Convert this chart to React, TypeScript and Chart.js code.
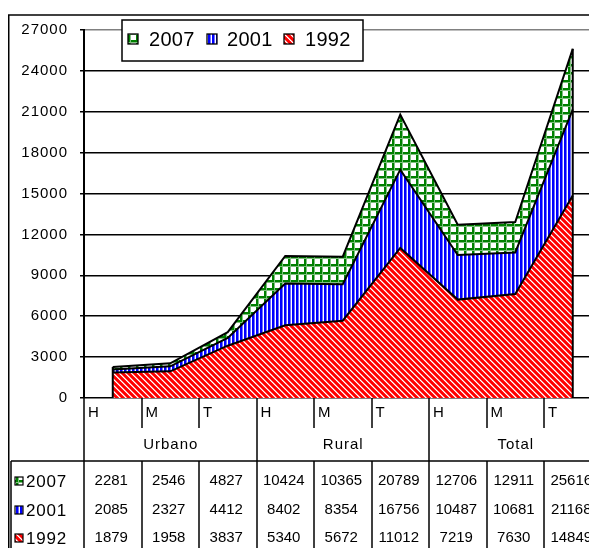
import React, { useEffect, useRef } from 'react';
import { Chart, registerables } from 'chart.js';

Chart.register(...registerables);

// ---- data ----
const categories = ['H', 'M', 'T', 'H', 'M', 'T', 'H', 'M', 'T'];
const groups = ['Urbano', 'Rural', 'Total'];
const seriesNames = ['2007', '2001', '1992'];
const values2007 = [2281, 2546, 4827, 10424, 10365, 20789, 12706, 12911, 25616];
const values2001 = [2085, 2327, 4412, 8402, 8354, 16756, 10487, 10681, 21168];
const values1992 = [1879, 1958, 3837, 5340, 5672, 11012, 7219, 7630, 14849];
const yMin = 0;
const yMax = 27000;
const yStep = 3000;

const FONT = '"Liberation Sans", Arial, Helvetica, sans-serif';

function makePattern(kind: string): any {
  const c = document.createElement('canvas');
  const size = kind === 'green' ? 8 : kind === 'blue' ? 4 : 6;
  c.width = size;
  c.height = size;
  const g = c.getContext('2d')!;
  g.fillStyle = '#ffffff';
  g.fillRect(0, 0, size, size);
  if (kind === 'red') {
    for (let y = 0; y < size; y++) {
      for (let x = 0; x < size; x++) {
        const d = (((x - y) % size) + size) % size;
        if (d < 3) {
          g.fillStyle = '#ff0000';
          g.fillRect(x, y, 1, 1);
        } else if (d === 3) {
          g.fillStyle = '#ff3030';
          g.fillRect(x, y, 1, 1);
        } else if (d === 5) {
          g.fillStyle = '#ff9090';
          g.fillRect(x, y, 1, 1);
        }
      }
    }
  } else if (kind === 'blue') {
    g.fillStyle = '#0000ff';
    g.fillRect(0, 0, 2, size);
    g.fillStyle = '#7070ff';
    g.fillRect(2, 0, 1, size);
  } else {
    g.fillStyle = '#008000';
    g.fillRect(0, 0, size, 2);
    g.fillRect(0, 0, 2, size);
    g.fillStyle = '#80c080';
    g.fillRect(0, 2, size, 1);
    g.fillRect(2, 0, 1, size);
    g.fillStyle = '#008000';
    g.fillRect(0, 0, 2, 2);
  }
  return g.createPattern(c, 'repeat');
}

export default function App() {
  const ref = useRef<HTMLCanvasElement | null>(null);

  useEffect(() => {
    const canvas = ref.current;
    if (!canvas) return;

    const pRed = makePattern('red');
    const pBlue = makePattern('blue');
    const pGreen = makePattern('green');
    const patternsByName: Record<string, any> = { '2007': pGreen, '2001': pBlue, '1992': pRed };
    const valuesByName: Record<string, number[]> = { '2007': values2007, '2001': values2001, '1992': values1992 };

    const spacingPlugin = {
      id: 'spacing',
      beforeDraw(chart: any) {
        (chart.ctx as any).letterSpacing = '1px';
      },
    };

    const edgePlugin = {
      id: 'edges',
      afterDatasetsDraw(chart: any) {
        const ctx = chart.ctx;
        const metas = chart.getSortedVisibleDatasetMetas();
        const y0 = chart.scales.y.getPixelForValue(0);
        const n = categories.length;
        ctx.save();
        ctx.strokeStyle = '#000';
        ctx.lineWidth = 2;
        [0, n - 1].forEach((idx) => {
          let top = Infinity;
          let x = 0;
          metas.forEach((m: any) => {
            const el = m.data[idx];
            if (el.y < top) top = el.y;
            x = el.x;
          });
          ctx.beginPath();
          ctx.moveTo(x, top);
          ctx.lineTo(x, y0);
          ctx.stroke();
        });
        ctx.restore();
      },
    };

    const tablePlugin = {
      id: 'excelTable',
      afterDraw(chart: any) {
        const ctx = chart.ctx as any;
        const a = chart.chartArea;
        const xs = chart.scales.x;
        const W = chart.width;
        const H = chart.height;
        const n = categories.length;
        const b: number[] = [];
        for (let i = 0; i <= n; i++) b.push(xs.getPixelForValue(i - 0.5));
        const bottom = a.bottom;
        const tableTop = 453;
        ctx.save();
        ctx.letterSpacing = '0px';
        ctx.strokeStyle = '#000';
        ctx.lineWidth = 1.5;
        const line = (x1: number, y1: number, x2: number, y2: number) => {
          ctx.beginPath();
          ctx.moveTo(x1, y1);
          ctx.lineTo(x2, y2);
          ctx.stroke();
        };
        // outer chart border
        line(0.75, 7, 0.75, H);
        line(0, 7, W, 7);
        // category ticks & group dividers
        for (let i = 0; i <= n; i++) {
          const x = Math.round(b[i]);
          if (i % 3 === 0) {
            line(x, bottom, x, H);
          } else {
            line(x, bottom, x, bottom + 30);
            line(x, tableTop, x, H);
          }
        }
        // table frame
        line(3, tableTop, W, tableTop);
        line(3, tableTop, 3, H);

        ctx.fillStyle = '#000';
        ctx.textBaseline = 'middle';
        // H / M / T labels
        ctx.font = `15px ${FONT}`;
        ctx.textAlign = 'left';
        categories.forEach((c, i) => {
          ctx.fillText(c, b[i] + 4, 405);
        });
        // group labels
        ctx.letterSpacing = '1px';
        ctx.textAlign = 'center';
        groups.forEach((g, gi) => {
          ctx.fillText(g, (b[gi * 3] + b[gi * 3 + 3]) / 2 + 0.5, 437);
        });

        // data table rows
        const rowY = [473, 502, 530];
        seriesNames.forEach((name, r) => {
          const y = rowY[r];
          ctx.fillStyle = patternsByName[name];
          ctx.fillRect(7, y - 4, 8, 8);
          ctx.lineWidth = 1.2;
          ctx.strokeRect(7, y - 4, 8, 8);
          ctx.fillStyle = '#000';
          ctx.font = `17px ${FONT}`;
          ctx.letterSpacing = '0.8px';
          ctx.textAlign = 'left';
          ctx.fillText(name, 18, y + 1);
          ctx.letterSpacing = '0px';
          ctx.font = `15px ${FONT}`;
          ctx.textAlign = 'center';
          valuesByName[name].forEach((v, i) => {
            ctx.fillText(String(v), (b[i] + b[i + 1]) / 2 - 1.5, y);
          });
        });

        // legend
        ctx.lineWidth = 1.5;
        ctx.fillStyle = '#fff';
        ctx.fillRect(114, 12, 241, 41);
        ctx.strokeRect(114, 12, 241, 41);
        const keyX = [120, 199, 276];
        const textX = [141, 219, 297];
        ctx.font = `20px ${FONT}`;
        ctx.textAlign = 'left';
        ctx.letterSpacing = '0.3px';
        seriesNames.forEach((name, k) => {
          ctx.fillStyle = patternsByName[name];
          ctx.fillRect(keyX[k], 26, 10, 10);
          ctx.lineWidth = 1.3;
          ctx.strokeRect(keyX[k], 26, 10, 10);
          ctx.fillStyle = '#000';
          ctx.fillText(name, textX[k], 32);
        });
        ctx.restore();
      },
    };

    const ds = (name: string) => ({
      label: name,
      data: valuesByName[name],
      backgroundColor: patternsByName[name],
      borderColor: '#000',
      borderWidth: 2,
      fill: 'origin',
      pointRadius: 0,
      tension: 0,
    });

    const chart = new Chart(canvas, {
      type: 'line',
      data: {
        labels: categories,
        // drawn back-to-front: 2007 behind, 1992 in front
        datasets: [ds('1992'), ds('2001'), ds('2007')],
      },
      options: {
        animation: false,
        responsive: false,
        devicePixelRatio: 1,
        layout: { padding: { left: 0, top: 22, right: 6.5, bottom: 150 } },
        plugins: {
          legend: { display: false },
          tooltip: { enabled: false },
          title: { display: false },
        },
        scales: {
          x: {
            type: 'category',
            display: false,
            offset: true,
          },
          y: {
            min: yMin,
            max: yMax,
            afterFit: (scale: any) => {
              scale.width = 76;
            },
            ticks: {
              stepSize: yStep,
              color: '#000',
              padding: 12,
              font: { family: FONT, size: 15 },
              callback: (v: any) => String(v),
            },
            grid: {
              color: (c: any) => (c.tick && c.tick.value === yMax ? '#808080' : '#000'),
              tickColor: '#000',
              lineWidth: 1.5,
              tickLength: 4,
              drawTicks: true,
            },
            border: { color: '#000', width: 2 },
          },
        },
      } as any,
      plugins: [spacingPlugin, edgePlugin, tablePlugin],
    });

    return () => chart.destroy();
  }, []);

  return (
    <div style={{ width: 589, height: 540, overflow: 'hidden' }}>
      <canvas ref={ref} width={600} height={540} style={{ display: 'block' }} />
    </div>
  );
}
